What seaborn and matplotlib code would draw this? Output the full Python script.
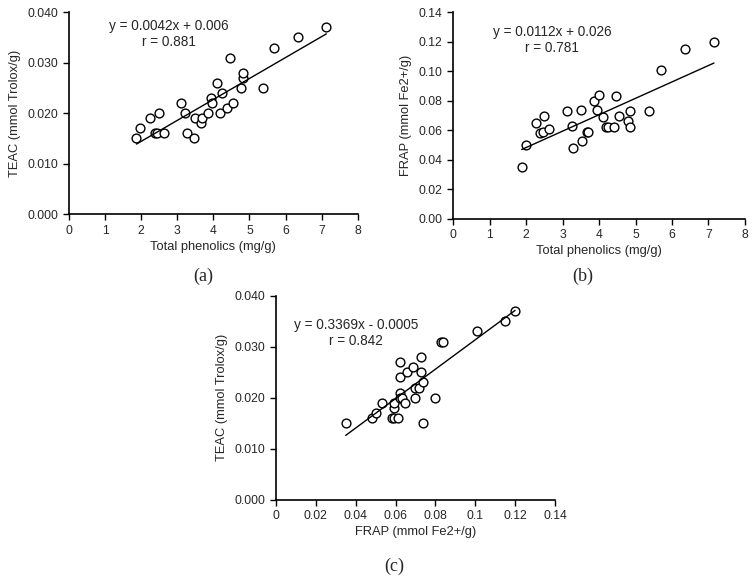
import numpy as np
import pandas as pd
import seaborn as sns
import matplotlib.pyplot as plt
from matplotlib.ticker import FormatStrFormatter, FuncFormatter

# data
phenolics_a = [1.87, 1.98, 2.25, 2.48, 2.38, 2.43, 2.62, 3.10, 3.22, 3.26, 3.47, 3.48, 3.66, 3.68, 3.84,
               3.94, 3.96, 4.10, 4.17, 4.24, 4.39, 4.45, 4.54, 4.76, 4.82, 4.83, 5.38, 5.68, 6.34, 7.13]
teac_a = [0.015, 0.017, 0.019, 0.020, 0.016, 0.016, 0.016, 0.022, 0.020, 0.016, 0.015, 0.019, 0.018, 0.019, 0.020,
          0.023, 0.022, 0.026, 0.020, 0.024, 0.021, 0.031, 0.022, 0.025, 0.027, 0.028, 0.025, 0.033, 0.035, 0.037]

phenolics_b = [1.88, 1.99, 2.26, 2.39, 2.45, 2.50, 2.64, 3.13, 3.25, 3.28, 3.50, 3.52, 3.66, 3.69, 3.85,
               3.95, 3.99, 4.12, 4.18, 4.25, 4.42, 4.47, 4.56, 4.79, 4.84, 4.85, 5.38, 5.70, 6.37, 7.15]
frap_b = [0.035, 0.050, 0.065, 0.058, 0.059, 0.070, 0.061, 0.073, 0.063, 0.048, 0.074, 0.053, 0.059, 0.059, 0.080,
          0.074, 0.084, 0.069, 0.062, 0.062, 0.062, 0.083, 0.070, 0.066, 0.062, 0.073, 0.073, 0.101, 0.115, 0.120]

frap_c = [0.035, 0.048, 0.050, 0.053, 0.058, 0.059, 0.061, 0.059, 0.059, 0.062, 0.062, 0.063, 0.065, 0.062, 0.062,
          0.066, 0.069, 0.070, 0.070, 0.073, 0.073, 0.072, 0.074, 0.074, 0.080, 0.083, 0.084, 0.101, 0.115, 0.120]
teac_c = [0.015, 0.016, 0.017, 0.019, 0.016, 0.016, 0.016, 0.018, 0.019, 0.021, 0.020, 0.020, 0.019, 0.024, 0.027,
          0.025, 0.026, 0.020, 0.022, 0.028, 0.025, 0.022, 0.023, 0.015, 0.020, 0.031, 0.031, 0.033, 0.035, 0.037]

equations = ["y = 0.0042x + 0.006\nr = 0.881",
             "y = 0.0112x + 0.026\nr = 0.781",
             "y = 0.3369x - 0.0005\nr = 0.842"]
panel_labels = ["(a)", "(b)", "(c)"]

sns.set_style("ticks")
plt.rcParams['font.family'] = ['Liberation Sans', 'DejaVu Sans']

fig = plt.figure(figsize=(7.54, 5.82), dpi=100)
ax_a = fig.add_axes([0.0915, 0.632, 0.383, 0.347])
ax_b = fig.add_axes([0.601, 0.624, 0.387, 0.355])
ax_c = fig.add_axes([0.366, 0.1414, 0.370, 0.3505])

panels = [
    (ax_a, phenolics_a, teac_a, "Total phenolics (mg/g)", "TEAC (mmol Trolox/g)", (0, 8), (0, 0.04)),
    (ax_b, phenolics_b, frap_b, "Total phenolics (mg/g)", "FRAP (mmol Fe2+/g)", (0, 8), (0, 0.14)),
    (ax_c, frap_c, teac_c, "FRAP (mmol Fe2+/g)", "TEAC (mmol Trolox/g)", (0, 0.14), (0, 0.04)),
]

for ax, x, y, xl, yl, xlim, ylim in panels:
    df = pd.DataFrame({"x": x, "y": y})
    sns.regplot(data=df, x="x", y="y", ax=ax, ci=None, truncate=True,
                scatter_kws=dict(s=40, facecolors="white", edgecolors="black", linewidths=1.0, alpha=1),
                line_kws=dict(color="black", lw=1.0))
    ax.set_xlim(*xlim)
    ax.set_ylim(*ylim)
    ax.set_xlabel(xl, fontsize=9.3, labelpad=3)
    ax.set_ylabel(yl, fontsize=9.3, labelpad=5)
    ax.tick_params(labelsize=8.7, length=4, width=1, direction="out", color="black")
    for s in ["left", "bottom"]:
        ax.spines[s].set_linewidth(1.2)
        ax.spines[s].set_color("black")
    sns.despine(ax=ax)

ax_a.set_xticks(np.arange(0, 9, 1))
ax_a.set_yticks(np.arange(0, 0.041, 0.01))
ax_a.yaxis.set_major_formatter(FormatStrFormatter("%.3f"))
ax_b.set_xticks(np.arange(0, 9, 1))
ax_b.set_yticks(np.arange(0, 0.141, 0.02))
ax_b.yaxis.set_major_formatter(FormatStrFormatter("%.2f"))
ax_c.set_xticks(np.arange(0, 0.141, 0.02))
ax_c.xaxis.set_major_formatter(FuncFormatter(lambda v, p: f"{round(v, 2):g}"))
ax_c.set_yticks(np.arange(0, 0.041, 0.01))
ax_c.yaxis.set_major_formatter(FormatStrFormatter("%.3f"))

# equation text (figure pixel centres)
eq_pos = [(169, 34), (552, 40), (356, 333)]
for (px, py), txt in zip(eq_pos, equations):
    fig.text(px / 754, 1 - py / 582, txt, ha="center", va="center", fontsize=9.8, linespacing=1.2)

lab_pos = [(203, 276), (583, 276), (394, 566)]
for (px, py), txt in zip(lab_pos, panel_labels):
    fig.text(px / 754, 1 - py / 582, txt, ha="center", va="center", fontsize=13,
             family=["Liberation Serif", "DejaVu Serif"])

fig.savefig("out.png", dpi=100)
